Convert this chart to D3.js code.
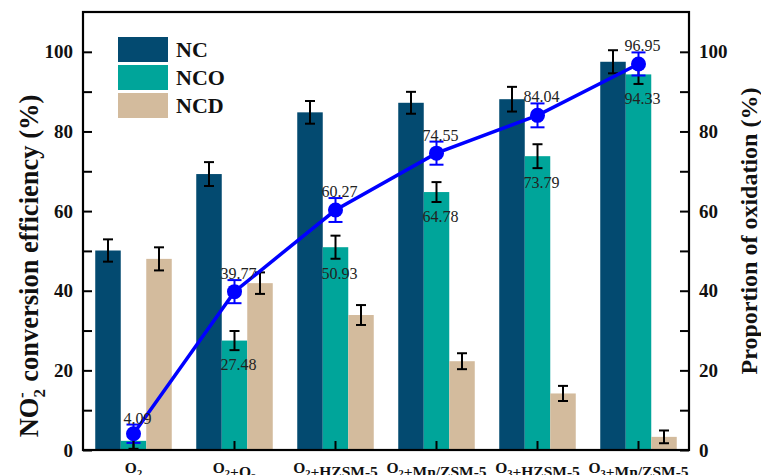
<!DOCTYPE html>
<html>
<head>
<meta charset="utf-8">
<script src="https://cdn.jsdelivr.net/npm/d3@7"></script>
<style>
  html, body { margin: 0; padding: 0; background: #fff; }
  svg { display: block; font-family: "Liberation Serif", "Times New Roman", serif; }
</style>
</head>
<body>
<svg id="chart" width="761" height="475"></svg>
<script>
// Treatment conditions
const categories = ["O2", "O2+O3", "O2+HZSM-5", "O2+Mn/ZSM-5", "O3+HZSM-5", "O3+Mn/ZSM-5"];

// Conversion efficiencies (%) and standard deviations
const seriesNames = ["NC", "NCO", "NCD"];
const ncValues  = [50.1, 69.3, 84.8, 87.2, 88.1, 97.5];
const ncErr     = [2.8, 3.0, 2.85, 2.75, 3.1, 2.9];
const ncoValues = [2.3, 27.48, 50.93, 64.78, 73.79, 94.33];
const ncoErr    = [2.0, 2.4, 2.9, 2.5, 3.0, 2.4];
const ncdValues = [48.0, 41.9, 33.9, 22.3, 14.2, 3.3];
const ncdErr    = [2.9, 2.7, 2.5, 2.0, 1.9, 1.6];

// Proportion of oxidation (%) on the right axis
const oxidation    = [4.09, 39.77, 60.27, 74.55, 84.04, 96.95];
const oxidationErr = [2.3, 2.9, 3.0, 2.9, 3.0, 2.9];

const leftTicks  = [0, 20, 40, 60, 80, 100];
const rightTicks = [0, 20, 40, 60, 80, 100];
const minorTicks = [10, 30, 50, 70, 90];

const colors = { NC: "#034a70", NCO: "#00a59a", NCD: "#d3bb9d" };
const lineColor = "#0000ff";

const svg = d3.select("#chart");
const margin = { left: 83, right: 72, top: 12, bottom: 25 };
const W = 761, H = 475;
const x0 = margin.left, x1 = W - margin.right;
const y0 = H - margin.bottom, y1 = margin.top;

const x = d3.scaleBand().domain(categories).range([x0, x1]).padding(0);
const barW = x.bandwidth() * 0.2525;
const xs = d3.scaleBand().domain(seriesNames).range([0, barW * 3]);
const groupOffset = (x.bandwidth() - barW * 3) / 2;

const yL = d3.scaleLinear().domain([0, 110]).range([y0, y1]);
const yR = d3.scaleLinear().domain([0, 110]).range([y0, y1]);

const series = [
  { name: "NC",  values: ncValues,  err: ncErr },
  { name: "NCO", values: ncoValues, err: ncoErr },
  { name: "NCD", values: ncdValues, err: ncdErr }
];

// Bars
const barG = svg.append("g");
series.forEach(s => {
  barG.selectAll(null).data(categories).enter().append("rect")
    .attr("x", c => x(c) + groupOffset + xs(s.name))
    .attr("width", barW)
    .attr("y", (c, i) => yL(s.values[i]))
    .attr("height", (c, i) => yL(0) - yL(s.values[i]))
    .attr("fill", colors[s.name]);
});

// Error bars for the bars
const errG = svg.append("g").attr("stroke", "#000").attr("stroke-width", 2);
series.forEach(s => {
  categories.forEach((c, i) => {
    const cx = x(c) + groupOffset + xs(s.name) + barW / 2;
    const hi = yL(s.values[i] + s.err[i]);
    const lo = yL(Math.max(0, s.values[i] - s.err[i]));
    errG.append("line").attr("x1", cx).attr("x2", cx).attr("y1", hi).attr("y2", lo);
    errG.append("line").attr("x1", cx - 5).attr("x2", cx + 5).attr("y1", hi).attr("y2", hi);
    errG.append("line").attr("x1", cx - 5).attr("x2", cx + 5).attr("y1", lo).attr("y2", lo);
  });
});

// Oxidation line with markers and error bars
const cxOf = c => x(c) + x.bandwidth() / 2;
const line = d3.line().x((d, i) => cxOf(categories[i])).y(d => yR(d));
svg.append("path").datum(oxidation)
  .attr("d", line).attr("fill", "none")
  .attr("stroke", lineColor).attr("stroke-width", 3.5);

const oxErrG = svg.append("g").attr("stroke", lineColor).attr("stroke-width", 2);
oxidation.forEach((v, i) => {
  const cx = cxOf(categories[i]);
  const hi = yR(v + oxidationErr[i]);
  const lo = yR(v - oxidationErr[i]);
  oxErrG.append("line").attr("x1", cx).attr("x2", cx).attr("y1", hi).attr("y2", lo);
  oxErrG.append("line").attr("x1", cx - 7).attr("x2", cx + 7).attr("y1", hi).attr("y2", hi);
  oxErrG.append("line").attr("x1", cx - 7).attr("x2", cx + 7).attr("y1", lo).attr("y2", lo);
});
svg.append("g").selectAll("circle").data(oxidation).enter().append("circle")
  .attr("cx", (d, i) => cxOf(categories[i]))
  .attr("cy", d => yR(d))
  .attr("r", 7.5)
  .attr("fill", lineColor);

// Value labels
const labelG = svg.append("g").attr("font-size", 16).attr("fill", "#222").attr("text-anchor", "middle");
oxidation.forEach((v, i) => {
  labelG.append("text")
    .attr("x", cxOf(categories[i]) + 4)
    .attr("y", yR(v + oxidationErr[i]) - 1)
    .text(v.toFixed(2));
});
ncoValues.forEach((v, i) => {
  if (i === 0) return;
  labelG.append("text")
    .attr("x", cxOf(categories[i]) + 4)
    .attr("y", yL(v - ncoErr[i]) + 20)
    .text(v.toFixed(2));
});

// Frame and axes
const axisG = svg.append("g").attr("stroke", "#000").attr("stroke-width", 2.2);
axisG.append("rect").attr("x", x0).attr("y", y1).attr("width", x1 - x0).attr("height", y0 - y1)
  .attr("fill", "none");

const leftAxis = d3.axisLeft(yL).tickValues(leftTicks).tickSize(-9).tickFormat(d3.format("d"));
const gL = svg.append("g").attr("transform", `translate(${x0},0)`).call(leftAxis);
const rightAxis = d3.axisRight(yR).tickValues(rightTicks).tickSize(-9).tickFormat(d3.format("d"));
const gR = svg.append("g").attr("transform", `translate(${x1},0)`).call(rightAxis);
[gL, gR].forEach(g => {
  g.select(".domain").remove();
  g.selectAll(".tick line").attr("stroke", "#000").attr("stroke-width", 2);
  g.selectAll(".tick text").attr("font-family", "Liberation Serif, serif")
    .attr("font-size", 19).attr("font-weight", "bold").attr("fill", "#111");
});
gL.selectAll(".tick text").attr("x", -10);
gR.selectAll(".tick text").attr("x", 10);

const minorL = d3.axisLeft(yL).tickValues(minorTicks).tickSize(-9).tickFormat("");
const minorR = d3.axisRight(yR).tickValues(minorTicks).tickSize(-9).tickFormat("");
[svg.append("g").attr("transform", `translate(${x0},0)`).call(minorL),
 svg.append("g").attr("transform", `translate(${x1},0)`).call(minorR)].forEach(g => {
  g.select(".domain").remove();
  g.selectAll(".tick line").attr("stroke", "#000").attr("stroke-width", 2);
});

const bottomAxis = d3.axisBottom(x).tickSize(-9).tickFormat("");
const gB = svg.append("g").attr("transform", `translate(0,${y0})`).call(bottomAxis);
gB.select(".domain").remove();
gB.selectAll(".tick line").attr("stroke", "#000").attr("stroke-width", 2);

// Category labels with chemical subscripts
const catG = svg.append("g").attr("font-size", 15.5).attr("font-weight", "bold")
  .attr("fill", "#111").attr("text-anchor", "middle");
categories.forEach(c => {
  const t = catG.append("text").attr("x", cxOf(c)).attr("y", y0 + 23);
  const parts = c.split(/(?<=O)(\d)/);
  parts.forEach((p, k) => {
    if (p === "") return;
    if (/^\d$/.test(p) && k % 2 === 1) {
      t.append("tspan").attr("font-size", 10.5).attr("dy", 4).text(p);
      t.append("tspan").attr("dy", -4).text("");
    } else {
      t.append("tspan").text(p);
    }
  });
});

// Axis titles
const titleL = svg.append("text")
  .attr("transform", "translate(38,266) rotate(-90)")
  .attr("text-anchor", "middle").attr("font-size", 26.5).attr("font-weight", "bold").attr("fill", "#111");
titleL.append("tspan").text("NO");
titleL.append("tspan").attr("font-size", 17).attr("dy", 7).text("2");
titleL.append("tspan").attr("font-size", 17).attr("dx", -9).attr("dy", -18).text("-");
titleL.append("tspan").attr("dx", 4).attr("dy", 11).text(" conversion efficiency (%)");

svg.append("text")
  .attr("transform", `translate(757,${(y0 + y1) / 2}) rotate(-90)`)
  .attr("text-anchor", "middle").attr("font-size", 24).attr("font-weight", "bold").attr("fill", "#111")
  .text("Proportion of oxidation (%)");

// Legend
const legend = svg.append("g").attr("transform", "translate(118,37)");
seriesNames.forEach((n, i) => {
  const g = legend.append("g").attr("transform", `translate(0,${i * 28})`);
  g.append("rect").attr("width", 50).attr("height", 25).attr("fill", colors[n]);
  g.append("text").attr("x", 58).attr("y", 20).attr("font-size", 22).attr("font-weight", "bold")
    .attr("fill", "#111").text(n);
});
</script>
</body>
</html>
